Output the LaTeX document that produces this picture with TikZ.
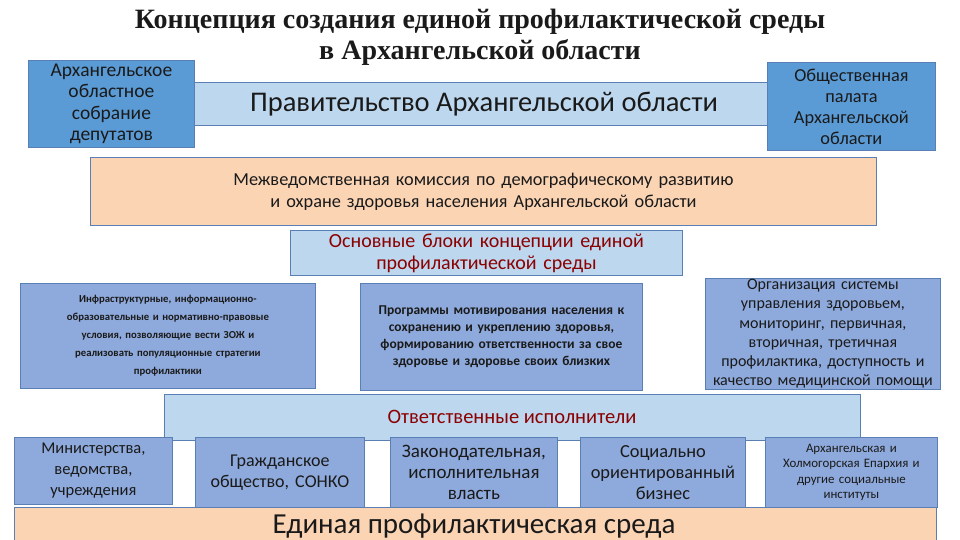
\documentclass[tikz,border=0pt]{standalone}
\usepackage{fontspec}
\setmainfont{Carlito}
\newfontfamily\titlefont{Liberation Serif}
\definecolor{midb}{HTML}{5B9BD5}
\definecolor{grb}{HTML}{8EA9DB}
\definecolor{lb}{HTML}{BDD7EE}
\definecolor{peach}{HTML}{FBD4B4}
\definecolor{bord}{HTML}{5A7FB5}
\definecolor{dred}{HTML}{8B0000}
\definecolor{txt}{HTML}{1A1A1A}
\tikzset{
 bx/.style={draw=bord, line width=0.8pt, anchor=north west, inner sep=1pt, align=center, text=txt},
}
\begin{document}
\begin{tikzpicture}[x=1pt,y=1pt]
\useasboundingbox (0,0) rectangle (960,-540);
\node[font=\titlefont\bfseries\fontsize{28}{31}\selectfont, align=center, text=txt] (title) at (480,-37) {Концепция создания единой профилактической среды\\в Архангельской области};
\node[bx, fill=lb, minimum width=574pt, minimum height=43pt] (gov) at (194,-82) {};
\node[font=\fontsize{28.5}{30}\selectfont, text=txt] (govt) at (484,-104) {Правительство Архангельской области};
\node[bx, fill=midb, minimum width=166pt, minimum height=87pt, text width=164pt, font=\fontsize{19.5}{21.5}\selectfont] (asm) at (28,-60) {Архангельское\\областное\\собрание\\депутатов};
\node[bx, fill=midb, minimum width=168pt, minimum height=88pt, text width=166pt, font=\fontsize{18.3}{21}\selectfont] (pal) at (767,-62) {Общественная\\палата\\Архангельской\\области};
\node[bx, fill=peach, minimum width=786pt, minimum height=68pt, text width=780pt, font=\fontsize{18.3}{22}\selectfont] (com) at (90,-157) {Межведомственная комиссия по демографическому развитию\\и охране здоровья населения Архангельской области};
\node[bx, fill=lb, minimum width=392pt, minimum height=45pt, text width=390pt, text=dred, font=\fontsize{20}{22}\selectfont] (blk) at (290,-230) {Основные блоки концепции единой\\профилактической среды};
\node[bx, fill=grb, minimum width=295pt, minimum height=105pt, text width=293pt, font=\bfseries\fontsize{10.7}{18}\selectfont] (inf) at (20,-283) {Инфраструктурные, информационно-\\образовательные и нормативно-правовые\\условия, позволяющие вести ЗОЖ и\\реализовать популяционные стратегии\\профилактики};
\node[bx, fill=grb, minimum width=282pt, minimum height=107pt, text width=280pt, font=\bfseries\fontsize{13.5}{17}\selectfont] (prg) at (360,-283) {Программы мотивирования населения к\\сохранению и укреплению здоровья,\\формированию ответственности за свое\\здоровье и здоровье своих близких};
\node[bx, fill=grb, minimum width=235pt, minimum height=110pt, text width=233pt, font=\fontsize{16}{19.2}\selectfont] (org) at (705,-278) {Организация системы\\управления здоровьем,\\мониторинг, первичная,\\вторичная, третичная\\профилактика, доступность и\\качество медицинской помощи};
\node[bx, fill=lb, minimum width=696pt, minimum height=46pt] (resp) at (164,-394) {};
\node[text=dred, font=\fontsize{20.5}{22}\selectfont] (respt) at (512,-417) {Ответственные исполнители};
\node[bx, fill=grb, minimum width=158pt, minimum height=67pt, text width=156pt, font=\fontsize{16.5}{21}\selectfont] (min) at (14,-437) {Министерства,\\ведомства,\\учреждения};
\node[bx, fill=grb, minimum width=169pt, minimum height=70pt, text width=167pt, font=\fontsize{18}{21}\selectfont] (civ) at (195,-437) {Гражданское\\общество, СОНКО};
\node[bx, fill=grb, minimum width=167pt, minimum height=70pt, text width=165pt, font=\fontsize{19}{21}\selectfont] (leg) at (390,-437) {Законодательная,\\исполнительная\\власть};
\node[bx, fill=grb, minimum width=165pt, minimum height=70pt, text width=163pt, font=\fontsize{18.4}{21}\selectfont] (soc) at (580,-437) {Социально\\ориентированный\\бизнес};
\node[bx, fill=grb, minimum width=172pt, minimum height=70pt, text width=170pt, font=\fontsize{12.9}{15.5}\selectfont] (epa) at (765,-437) {Архангельская и\\Холмогорская Епархия и\\другие социальные\\институты};
\node[bx, fill=peach, minimum width=922pt, minimum height=36pt] (uni) at (14,-507) {};
\node[font=\fontsize{29}{30}\selectfont, text=txt] (unit) at (474,-526) {Единая профилактическая среда};
\end{tikzpicture}
\end{document}
